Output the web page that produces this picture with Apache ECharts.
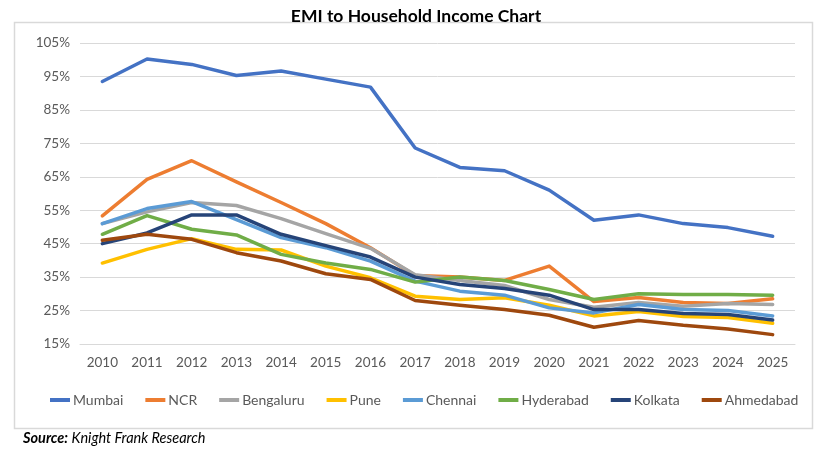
<!DOCTYPE html>
<html>
<head>
<meta charset="utf-8">
<script src="https://cdn.jsdelivr.net/npm/echarts@6/dist/echarts.min.js"></script>
<style>
html,body{margin:0;padding:0;background:#fff;}
#c{width:825px;height:450px;}
</style>
</head>
<body>
<div id="c"></div>
<script>
const years = ['2010','2011','2012','2013','2014','2015','2016','2017','2018','2019','2020','2021','2022','2023','2024','2025'];
const mumbai    = [93.5, 100.2, 98.6, 95.3, 96.6, 94.2, 91.8, 73.6, 67.8, 66.8, 61.0, 52.0, 53.6, 51.0, 49.8, 47.2];
const ncr       = [53.3, 64.2, 69.8, 63.5, 57.3, 51.0, 43.8, 35.5, 35.0, 34.0, 38.3, 27.7, 28.9, 27.4, 27.1, 28.5];
const bengaluru = [51.0, 54.5, 57.3, 56.4, 52.5, 48.0, 43.6, 35.7, 34.0, 32.5, 28.3, 26.0, 27.4, 26.3, 27.1, 26.8];
const pune      = [39.2, 43.3, 46.5, 43.3, 43.1, 38.3, 34.8, 29.3, 28.3, 28.8, 26.6, 23.4, 24.7, 23.2, 22.9, 21.2];
const chennai   = [51.0, 55.5, 57.6, 52.2, 46.8, 43.8, 39.8, 33.8, 30.8, 29.6, 25.8, 24.3, 26.8, 25.3, 25.0, 23.4];
const hyderabad = [47.8, 53.4, 49.3, 47.6, 41.8, 39.2, 37.3, 33.5, 35.0, 34.0, 31.3, 28.3, 30.0, 29.8, 29.8, 29.6];
const kolkata   = [45.0, 48.2, 53.6, 53.6, 47.8, 44.4, 41.0, 35.0, 32.8, 31.6, 29.6, 25.3, 25.3, 24.1, 23.8, 22.2];
const ahmedabad = [46.0, 47.8, 46.3, 42.3, 39.8, 36.0, 34.3, 28.0, 26.6, 25.3, 23.6, 20.0, 22.0, 20.6, 19.5, 17.8];
const yTicks = ['15%','25%','35%','45%','55%','65%','75%','85%','95%','105%'];

const OFFSET = 5; // axis ticks at 15,25,...: shift so the axis min is a multiple of the interval
const names = ['Mumbai','NCR','Bengaluru','Pune','Chennai','Hyderabad','Kolkata','Ahmedabad'];
const colors = ['#4472C4','#ED7D31','#A5A5A5','#FFC000','#5B9BD5','#70AD47','#264478','#9E480E'];
const seriesData = [mumbai, ncr, bengaluru, pune, chennai, hyderabad, kolkata, ahmedabad];
const FONT = 'Lato, "Open Sans", sans-serif';

const chart = echarts.init(document.getElementById('c'));
chart.setOption({
  animation: false,
  textStyle: {fontFamily: FONT},
  title: {
    text: 'EMI to Household Income Chart',
    left: 411, top: 2, textAlign: 'center',
    textStyle: {fontSize: 17.5, fontWeight: 'bold', color: '#000', fontFamily: FONT}
  },
  graphic: [
    {type: 'rect', shape: {x: 14.5, y: 22.5, width: 798, height: 406},
     style: {fill: 'none', stroke: '#d9d9d9', lineWidth: 1.5}, silent: true, z: -1},
    {type: 'text', left: 23, top: 431,
     style: {text: '{b|Source:} Knight Frank Research',
       rich: {b: {fontWeight: 'bold', fontStyle: 'italic', fontSize: 14.5, fontFamily: FONT, fill: '#000'}},
       fontStyle: 'italic', fontSize: 14.5, fontFamily: FONT, fill: '#000'}}
  ],
  grid: {left: 80, right: 30, top: 43, bottom: 106, containLabel: false},
  legend: {
    data: names, bottom: 38, left: 45,
    itemWidth: 20, itemHeight: 4, itemGap: 22,
    icon: 'rect',
    textStyle: {fontSize: 14, color: '#595959', fontFamily: FONT, padding: [0,0,0,-2]}
  },
  xAxis: {
    type: 'category', data: years, boundaryGap: true,
    axisLine: {lineStyle: {color: '#d9d9d9', width: 1}},
    axisTick: {show: false},
    axisLabel: {fontSize: 13.5, color: '#595959', margin: 12, fontFamily: FONT}
  },
  yAxis: {
    type: 'value', min: 15 - OFFSET, max: 105 - OFFSET, interval: 10,
    axisLine: {show: false}, axisTick: {show: false},
    splitLine: {lineStyle: {color: '#d9d9d9', width: 1}},
    axisLabel: {fontSize: 13.5, color: '#595959', margin: 10, fontFamily: FONT,
      formatter: (v) => yTicks[Math.round((v - (15 - OFFSET)) / 10)]}
  },
  series: names.map((n, i) => ({
    name: n, type: 'line', data: seriesData[i].map(v => v - OFFSET),
    symbol: 'none', lineStyle: {width: 3.5, color: colors[i], cap: 'round', join: 'round'},
    itemStyle: {color: colors[i]}
  }))
});
</script>
</body>
</html>
